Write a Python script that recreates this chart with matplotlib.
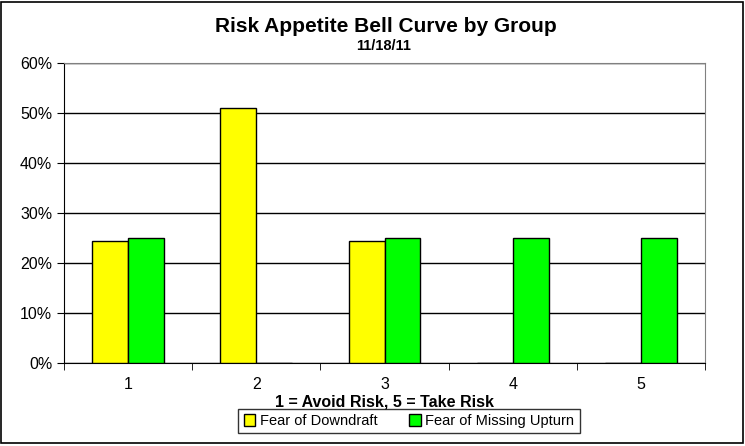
import numpy as np
import matplotlib.pyplot as plt
from matplotlib.patches import Rectangle

plt.rcParams['font.family'] = ['Liberation Sans', 'DejaVu Sans']

# данные
groups = ['1', '2', '3', '4', '5']
downdraft = [0.245, 0.51, 0.245, 0.0, 0.0]
missing_upturn = [0.25, 0.0, 0.25, 0.25, 0.25]
y_ticks = [0.0, 0.1, 0.2, 0.3, 0.4, 0.5, 0.6]

fig = plt.figure(figsize=(7.45, 4.46), dpi=100)

# рамка диаграммы
fig.patches.append(Rectangle((1 / 745, 3 / 446), 742 / 745, 441 / 446,
                             transform=fig.transFigure, fill=False,
                             edgecolor='black', linewidth=1.2))

ax = fig.add_axes([64 / 745, 1 - 363 / 446, 641 / 745, 300 / 446])

x = np.arange(1, len(groups) + 1)
w = 0.28
ax.bar(x - 0.14, downdraft, w, color='#FFFF00', edgecolor='black',
       linewidth=1, label='Fear of Downdraft', zorder=3)
ax.bar(x + 0.14, missing_upturn, w, color='#00FF00', edgecolor='black',
       linewidth=1, label='Fear of Missing Upturn', zorder=3)

ax.set_xlim(0.5, len(groups) + 0.5)
ax.set_ylim(0, 0.6)
ax.set_yticks(y_ticks)
ax.set_yticklabels([f'{int(round(v * 100))}%' for v in y_ticks], fontsize=11.5)
ax.yaxis.grid(True, color='black', linewidth=1)
ax.set_axisbelow(True)

# метки категорий по центру, засечки на границах
ax.set_xticks(x)
ax.set_xticklabels(groups, fontsize=11.5)
ax.tick_params(axis='x', length=0, pad=10)
ax.set_xticks(np.arange(0.5, len(groups) + 1), minor=True)
ax.tick_params(axis='x', which='minor', length=5, direction='out', color='black')
ax.tick_params(axis='y', length=5, direction='out', color='black')

for s in ['top', 'right']:
    ax.spines[s].set_color('gray')
for s in ['left', 'bottom']:
    ax.spines[s].set_color('black')

ax.set_xlabel('1 = Avoid Risk, 5 = Take Risk', fontsize=11.5, fontweight='bold',
              labelpad=2)

fig.text(386 / 745, 1 - 26 / 446, 'Risk Appetite Bell Curve by Group',
         ha='center', va='center', fontsize=15, fontweight='bold')
fig.text(384 / 745, 1 - 46 / 446, '11/18/11', ha='center', va='center',
         fontsize=10.5, fontweight='bold')

leg = fig.legend(loc='center', bbox_to_anchor=(409 / 745, 1 - 421 / 446),
                 ncol=2, fontsize=10.5, frameon=True, fancybox=False,
                 edgecolor='black', handlelength=0.8, handleheight=0.8,
                 handletextpad=0.3, columnspacing=2.2, borderpad=0.35,
                 borderaxespad=0)
leg.get_frame().set_linewidth(1)

fig.savefig('out.png', dpi=100)
